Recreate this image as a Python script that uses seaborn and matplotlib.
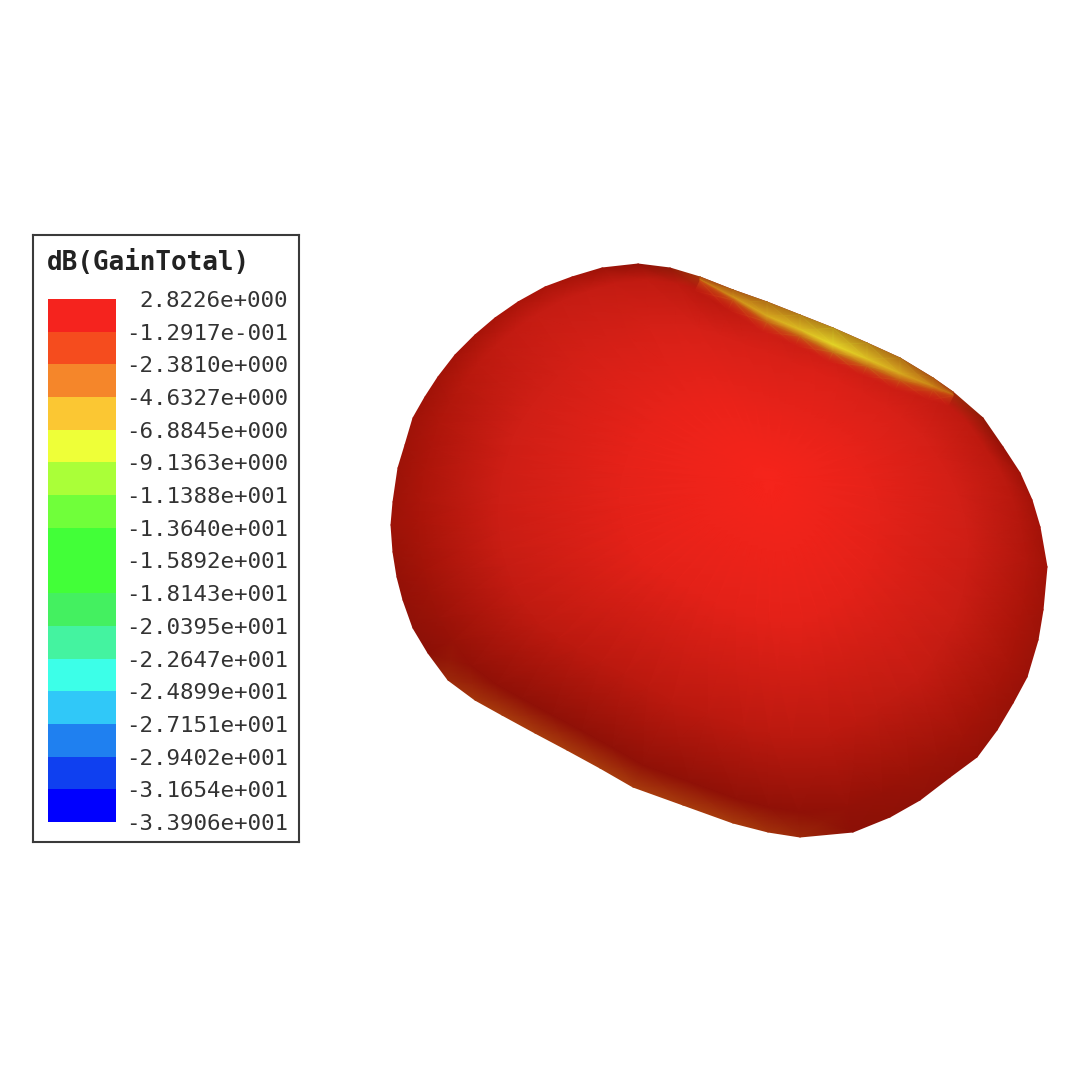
import numpy as np
import matplotlib
matplotlib.use("Agg")
import matplotlib.pyplot as plt
import seaborn as sns
from matplotlib.colors import BoundaryNorm, LinearSegmentedColormap, ListedColormap, to_rgb

W, H = 1092, 1074

# legend levels, top to bottom
gain_labels = ["2.8226e+000", "-1.2917e-001", "-2.3810e+000", "-4.6327e+000", "-6.8845e+000",
               "-9.1363e+000", "-1.1388e+001", "-1.3640e+001", "-1.5892e+001", "-1.8143e+001",
               "-2.0395e+001", "-2.2647e+001", "-2.4899e+001", "-2.7151e+001", "-2.9402e+001",
               "-3.1654e+001", "-3.3906e+001"]
cell_colors = ["#f5231e", "#f54c1e", "#f5862a", "#fbc733", "#eeff38", "#aaff38", "#70ff3a", "#42ff38",
               "#42ff38", "#44f060", "#44f3a0", "#3cffe8", "#30c8f8", "#1f80f0", "#0f40f0", "#0000ff"]

# pattern silhouette (image pixels)
outline_x = [700, 670, 638, 602, 572, 545, 518, 495, 475, 455, 438, 425, 413, 405, 398, 393, 391, 393, 397,
             403, 413, 428, 448, 475, 502, 535, 567, 600, 633, 683, 733, 768, 800, 853, 890, 920, 950, 977,
             997, 1013, 1027, 1038, 1043, 1047, 1040, 1032, 1020, 1003, 983, 953, 933, 900, 867, 833, 800, 767, 733]
outline_y = [277, 268, 264, 268, 277, 287, 302, 318, 335, 355, 377, 397, 418, 445, 468, 502, 525, 552, 577,
             600, 628, 653, 680, 700, 715, 733, 750, 768, 787, 805, 823, 832, 837, 832, 817, 800, 777, 757,
             730, 703, 677, 640, 610, 567, 527, 500, 473, 447, 418, 392, 378, 358, 343, 328, 315, 302, 290]
peak_x, peak_y = 770, 480

# brightness of the surface along each ray from the peak
ring_frac = [0, 0.4, 0.72, 0.93, 1]
shade_inner = [.88, .88, .88, .88, .88, .88, .88, .88, .87, .87, .87, .86, .86, .86, .85, .85, .85, .84, .84,
               .84, .84, .84, .84, .84, .84, .84, .84, .84, .84, .84, .84, .84, .84, .84, .84, .84, .84, .84,
               .84, .84, .84, .84, .84, .85, .85, .86, .86, .87, .87, .88, .88, .88, .88, .88, .88, .88, .88]
shade_mid = [.74, .74, .74, .74, .73, .73, .73, .72, .71, .7, .7, .69, .69, .68, .68, .67, .66, .65, .64,
             .62, .6, .58, .56, .55, .54, .54, .54, .54, .54, .54, .54, .54, .54, .54, .55, .56, .58, .6,
             .61, .62, .64, .65, .66, .68, .7, .71, .72, .73, .74, .75, .76, .76, .78, .78, .76, .76, .75]
shade_edge = [.52, .56, .58, .6, .62, .62, .62, .6, .58, .54, .5, .47, .45, .44, .43, .42, .4, .37, .34,
              .31, .27, .24, .2, .19, .18, .18, .18, .18, .18, .18, .18, .18, .18, .2, .22, .26, .3, .33,
              .35, .37, .39, .41, .43, .46, .49, .52, .54, .55, .57, .6, .6, .6, .6, .6, .6, .6, .55]
shade_rim = [.04, .1, .2, .3, .38, .42, .42, .4, .38, .36, .34, .33, .32, .32, .3, .3, .3, .25, .22,
             .2, .17, .14, .07, .04, .03, .03, .03, .03, .03, .03, .03, .05, .07, .14, .16, .18, .2, .22,
             .24, .26, .28, .3, .32, .34, .36, .36, .32, .22, .1, .06, .1, .15, .2, .2, .2, .2, .15]

# low-gain ridge at the top right
band_top_x = [700, 733, 767, 800, 833, 867, 900, 933, 953]
band_top_y = [277, 290, 302, 315, 328, 343, 358, 378, 392]
band_low_x = [700, 733, 767, 800, 833, 867, 900, 933, 953]
band_low_y = [281, 300, 322, 336, 352, 366, 380, 390, 396]
band_yellow = [.2, .45, .65, .8, 1, .85, .65, .35, .1]

sns.set_theme(style="white")
plt.rcParams["font.family"] = ["DejaVu Sans Mono"]

fig = plt.figure(figsize=(W / 100, H / 100), dpi=100, facecolor="white")


def px_axes(x0, y0, x1, y1):
    return fig.add_axes([x0 / W, 1 - y1 / H, (x1 - x0) / W, (y1 - y0) / H])


# surface
ax = px_axes(0, 0, W, H)
ax.set_xlim(0, W)
ax.set_ylim(H, 0)
ax.axis("off")

ox = np.array(outline_x + outline_x[:1], dtype=float)
oy = np.array(outline_y + outline_y[:1], dtype=float)
frac = np.array(ring_frac)[:, None]
mesh_x = peak_x + frac * (ox - peak_x)
mesh_y = peak_y + frac * (oy - peak_y)
shade = np.array([[1.0] * len(outline_x), shade_inner, shade_mid, shade_edge, shade_rim])
shade = np.hstack([shade, shade[:, :1]])
red_map = LinearSegmentedColormap.from_list(
    "surface", [(0, "#b0480f"), (0.12, "#8a1006"), (0.4, "#a81409"), (0.7, "#d01f16"), (1, "#f8241b")])
ax.pcolormesh(mesh_x, mesh_y, shade, shading="gouraud", cmap=red_map, vmin=0, vmax=1)

# ridge drawn over it
s = np.array(band_yellow)[:, None]
top_col = (1 - s) * np.array(to_rgb("#a83a10")) + s * np.array(to_rgb("#b89a1c"))
mid_col = (1 - s) * np.array(to_rgb("#c05a10")) + s * np.array(to_rgb("#e6d828"))
low_col = (1 - s) * np.array(to_rgb("#c84010")) + s * np.array(to_rgb("#c87818"))
fade_col = np.tile(np.array(to_rgb("#d8281a")), (len(band_yellow), 1))
tx, ty = np.array(band_top_x, float), np.array(band_top_y, float)
lx, ly = np.array(band_low_x, float), np.array(band_low_y, float)
band_x = np.array([tx, tx + 0.7 * (lx - tx), lx, lx - 5])
band_y = np.array([ty, ty + 0.7 * (ly - ty), ly, ly + 10])
alpha = np.array([.9, 1, .9, 0])[:, None, None] * np.ones((4, len(band_yellow), 1))
band_rgba = np.concatenate([np.stack([top_col, mid_col, low_col, fade_col]), alpha], axis=2)
ax.pcolormesh(band_x, band_y, band_rgba, shading="gouraud")

# legend box
box = px_axes(33, 235, 299, 842)
box.set_xticks([])
box.set_yticks([])
for sp in box.spines.values():
    sp.set_visible(True)
    sp.set_color("#3a3a3a")
    sp.set_linewidth(1.5)
box.text(14 / 266, 1 - 28 / 607, "dB(GainTotal)", transform=box.transAxes, fontsize=18.7,
         fontweight="bold", color="#222222", va="center", ha="left")

levels = np.array([float(v) for v in gain_labels])
cells = levels[1:].reshape(-1, 1)
legend_ax = px_axes(48, 299, 116, 822)
norm = BoundaryNorm(levels[::-1], len(cell_colors))
sns.heatmap(cells, ax=legend_ax, cmap=ListedColormap(cell_colors[::-1]), norm=norm, cbar=False,
            xticklabels=False, yticklabels=False)
legend_ax.yaxis.tick_right()
legend_ax.set_yticks(np.arange(len(gain_labels)))
legend_ax.set_yticklabels(gain_labels, rotation=0, ha="right", va="center_baseline", fontsize=16.2, color="#333333")
legend_ax.tick_params(axis="y", length=0, pad=124)

fig.savefig("out.png", dpi=100, facecolor="white")
